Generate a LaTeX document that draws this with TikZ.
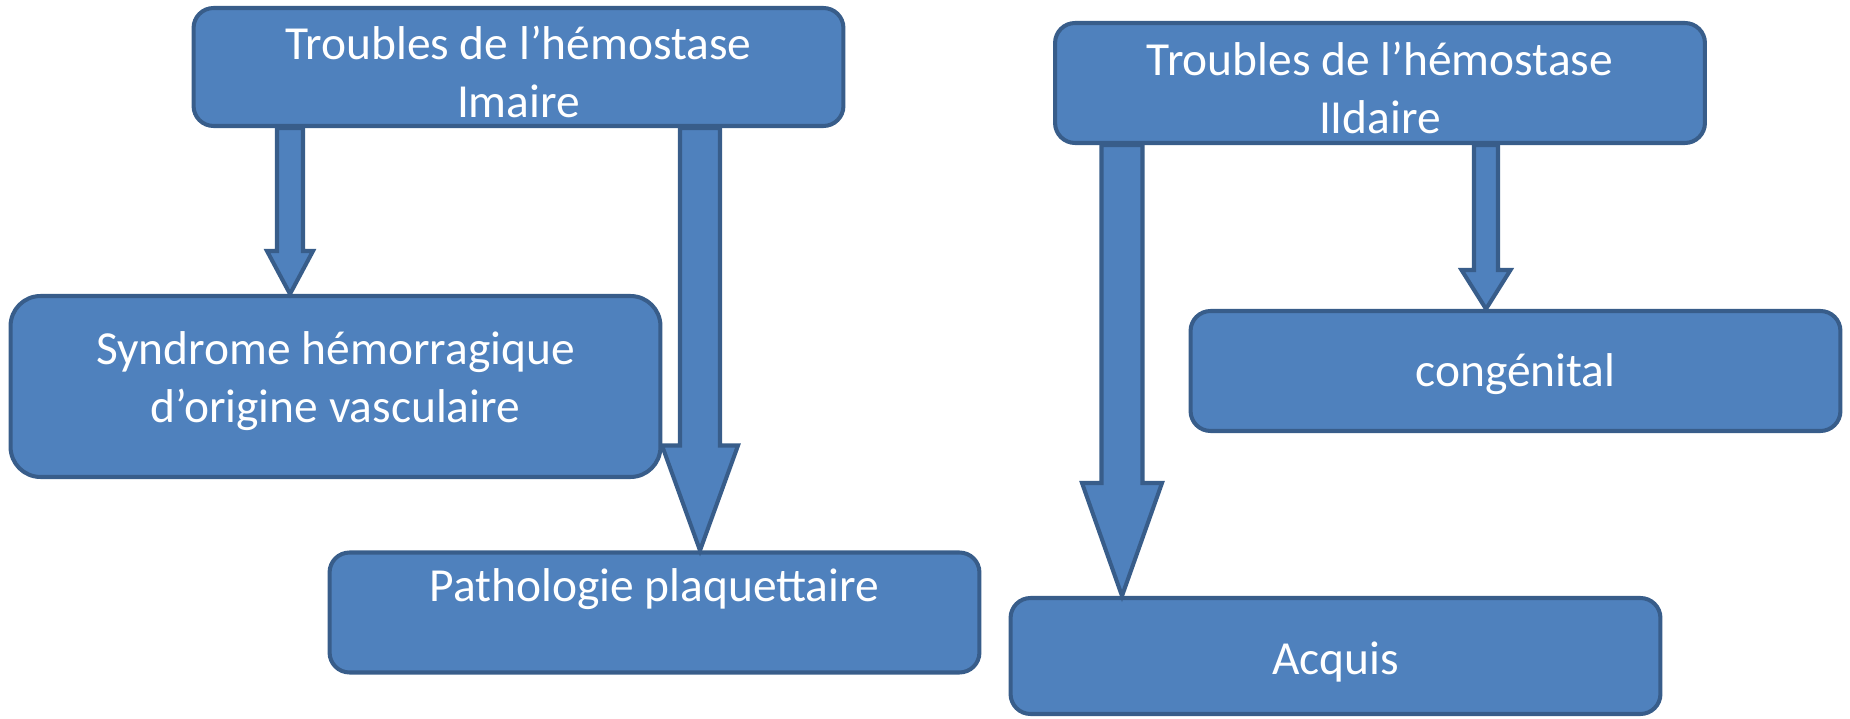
\documentclass[tikz,border=0pt]{standalone}
\usepackage{fontspec}
\setmainfont{Carlito}
\usetikzlibrary{calc}
\definecolor{boxfill}{HTML}{4F81BD}
\definecolor{boxline}{HTML}{385D8A}
% #1 from, #2 to, #3 x, #4 half shaft, #5 half head, #6 head length
\newcommand{\blockarrow}[6]{%
  \path (#1.south -| #3,0) coordinate (top) (#2.north -| #3,0) coordinate (tip);
  \draw[barrow] ($(top)+(-#4,0)$) -- ($(tip)+(-#4,-#6)$) -- ($(tip)+(-#5,-#6)$) -- (tip)
    -- ($(tip)+(#5,-#6)$) -- ($(tip)+(#4,-#6)$) -- ($(top)+(#4,0)$) -- cycle;}
\tikzset{
  box/.style={draw=boxline, fill=boxfill, line width=2.3pt, rounded corners=0.4cm,
    text=white, align=center, minimum width=13cm, inner ysep=0pt,
    font=\fontsize{27}{33}\selectfont, text height=25pt, text depth=7pt},
  twolines/.style={text height=60pt, text depth=3pt},
  barrow/.style={draw=boxline, fill=boxfill, line width=2.3pt, line join=miter}
}
\begin{document}
\begin{tikzpicture}[x=0.02cm, y=-0.02cm]
\useasboundingbox (0,0) rectangle (1850,719);
% hemostase primaire
\node[box, twolines, minimum height=2.36cm] (prim) at (518.5,67) {Troubles de l’hémostase\\Imaire};
\node[box, minimum height=3.62cm, rounded corners=0.6cm, text height=48.5pt] (vasc) at (335.5,386.5) {Syndrome hémorragique\\d’origine vasculaire};
\node[box, minimum height=2.4cm, text height=26pt, text depth=38pt] (plaq) at (654.5,612.5) {Pathologie plaquettaire};
% hemostase secondaire
\node[box, twolines, minimum height=2.4cm] (sec) at (1380,83) {Troubles de l’hémostase\\IIdaire};
\node[box, minimum height=2.4cm] (cong) at (1515.5,371) {congénital};
\node[box, minimum height=2.32cm, text height=28.5pt] (acq) at (1335.5,656) {Acquis};
% fleches
\blockarrow{prim}{vasc}{290}{13}{23}{43}
\blockarrow{prim}{plaq}{700}{20}{38}{105}
\blockarrow{sec}{acq}{1122}{20.5}{40}{113}
\blockarrow{sec}{cong}{1486}{12}{24.5}{39}
\end{tikzpicture}
\end{document}
